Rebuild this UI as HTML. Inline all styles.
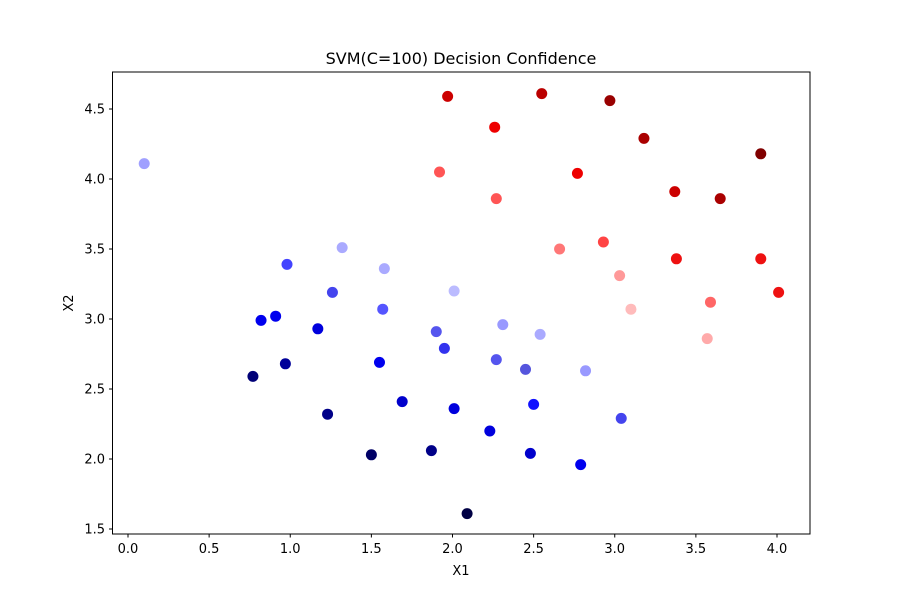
<!DOCTYPE html>
<html><head><meta charset="utf-8"><style>
body{margin:0;background:#fff}
svg{display:block;font-family:"DejaVu Sans","Liberation Sans",sans-serif}
</style></head><body>
<svg id="c" width="900" height="600">
<rect width="900" height="600" fill="#fff"/>
<text x="461" y="64" font-size="16" text-anchor="middle">SVM(C=100) Decision Confidence</text>
<text x="461" y="575" font-size="13" text-anchor="middle">X1</text>
<text x="73" y="303" font-size="13" text-anchor="middle" transform="rotate(-90 73 303)">X2</text>
<g id="pts"></g>
<g id="ax"></g>
<rect x="112.5" y="72" width="697.5" height="462" fill="none" stroke="#000" stroke-width="1"/>
</svg>
<script>
const xs=[0.10,1.97,2.55,2.97,2.26,3.18,3.90,1.92,2.77,3.37,3.65,2.27,1.32,2.66,2.93,0.98,1.58,3.03,3.38,3.90,1.26,2.01,3.59,4.01,0.82,0.91,1.57,3.10,1.17,2.31,1.90,2.54,3.57,1.95,2.27,1.55,0.97,2.45,2.82,0.77,1.69,2.50,1.23,2.01,3.04,2.23,1.50,1.87,2.48,2.79,2.09];
const ys=[4.11,4.59,4.61,4.56,4.37,4.29,4.18,4.05,4.04,3.91,3.86,3.86,3.51,3.50,3.55,3.39,3.36,3.31,3.43,3.43,3.19,3.20,3.12,3.19,2.99,3.02,3.07,3.07,2.93,2.96,2.91,2.89,2.86,2.79,2.71,2.69,2.68,2.64,2.63,2.59,2.41,2.39,2.32,2.36,2.29,2.20,2.03,2.06,2.04,1.96,1.61];
const colors=["#a0a0ff","#cc0000","#bb0000","#990000","#ee0000","#aa0000","#800000","#ff5555","#ee0000","#cc0000","#aa0000","#ff5555","#aaaaff","#ff7777","#ff4444","#4444ff","#aaaaff","#ff9999","#ee1111","#ee1111","#4444ee","#bbbbff","#ff6666","#ee1111","#0000ee","#0000ee","#5555ff","#ffbbbb","#0000dd","#9999ff","#5555ee","#aaaaff","#ffaaaa","#3333ee","#5555ee","#0000ee","#000099","#5555dd","#9999ff","#000077","#0000cc","#1111ff","#000088","#0000dd","#4444ee","#0000dd","#000066","#000088","#0000cc","#0000ee","#000044"];
const xTicks=[0,0.5,1,1.5,2,2.5,3,3.5,4];
const yTicks=[1.5,2,2.5,3,3.5,4,4.5];
const NS="http://www.w3.org/2000/svg";
function sx(v){return 128+v*162.25;}
function sy(v){return 459-(v-2)*140;}
const pts=document.getElementById('pts'),ax=document.getElementById('ax');
xs.forEach((x,i)=>{const c=document.createElementNS(NS,'circle');
c.setAttribute('cx',sx(x));c.setAttribute('cy',sy(ys[i]));c.setAttribute('r',5.5);c.setAttribute('fill',colors[i]);


pts.appendChild(c);});
xTicks.forEach(t=>{const l=document.createElementNS(NS,'line');const x=sx(t);
l.setAttribute('x1',x);l.setAttribute('x2',x);l.setAttribute('y1',534);l.setAttribute('y2',537.5);l.setAttribute('stroke','#000');


ax.appendChild(l);
const tx=document.createElementNS(NS,'text');tx.setAttribute('x',x);tx.setAttribute('y',553);tx.setAttribute('font-size','13');tx.setAttribute('text-anchor','middle');tx.textContent=t.toFixed(1);


ax.appendChild(tx);});
yTicks.forEach(t=>{const l=document.createElementNS(NS,'line');const y=sy(t);
l.setAttribute('x1',109);l.setAttribute('x2',112.5);l.setAttribute('y1',y);l.setAttribute('y2',y);l.setAttribute('stroke','#000');


ax.appendChild(l);
const tx=document.createElementNS(NS,'text');tx.setAttribute('x',105);tx.setAttribute('y',y+4.5);tx.setAttribute('font-size','13');tx.setAttribute('text-anchor','end');tx.textContent=t.toFixed(1);


ax.appendChild(tx);});
</script>
</body></html>
